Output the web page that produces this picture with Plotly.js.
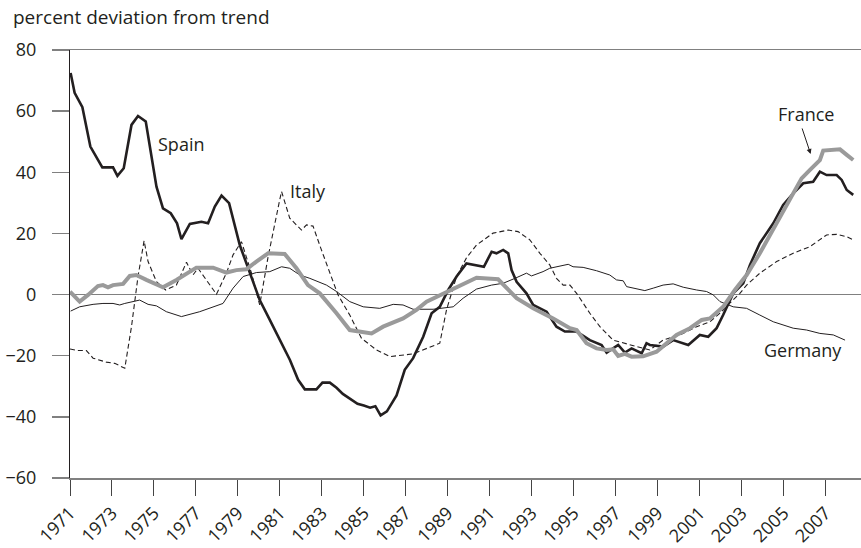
<!DOCTYPE html>
<html>
<head>
<meta charset="utf-8">
<script src="https://cdn.plot.ly/plotly-3.0.1.min.js"></script>
<style>html,body{margin:0;padding:0;background:#fff;}#chart{width:861px;height:548px;}</style>
</head>
<body>
<div id="chart"></div>
<script>
// ---- data ----
var tickYears = [1971,1973,1975,1977,1979,1981,1983,1985,1987,1989,1991,1993,1995,1997,1999,2001,2003,2005,2007];
var yTicks = [-60,-40,-20,0,20,40,60,80];

var spainYear = [1971.03,1971.22,1971.59,1971.97,1972.54,1973.05,1973.26,1973.56,1973.93,1974.24,1974.61,1975.12,1975.43,1975.80,1976.10,1976.31,1976.71,1977.26,1977.58,1977.90,1978.22,1978.58,1979.09,1979.57,1980.04,1980.52,1981.00,1981.48,1981.87,1982.19,1982.74,1983.03,1983.38,1983.70,1984.00,1984.33,1984.70,1985.00,1985.30,1985.55,1985.80,1986.10,1986.40,1986.56,1986.95,1987.35,1987.83,1988.23,1988.62,1989.02,1989.42,1989.89,1990.72,1991.09,1991.32,1991.64,1991.88,1992.04,1992.28,1992.75,1993.07,1993.71,1994.18,1994.58,1995.14,1995.77,1996.33,1996.57,1997.12,1997.44,1997.76,1998.24,1998.47,1998.63,1999.26,1999.74,2000.46,2001.01,2001.41,2001.81,2002.12,2002.60,2003.08,2003.40,2003.87,2004.51,2004.98,2005.46,2005.94,2006.41,2006.73,2007.05,2007.53,2007.77,2008.01,2008.32];
var spainVal = [72.5,66.0,61.3,48.4,41.6,41.6,38.8,41.3,55.5,58.4,56.6,35.3,28.2,26.6,23.3,18.1,23.1,23.8,23.3,28.8,32.4,29.9,16.2,7.0,-1.8,-8.3,-14.9,-21.4,-27.9,-31.0,-31.0,-28.8,-28.8,-30.5,-32.5,-34.0,-35.7,-36.3,-37.0,-36.5,-39.5,-38.2,-35.0,-33.0,-24.6,-20.8,-13.8,-6.1,-4.0,1.5,5.9,10.2,9.1,14.0,13.5,14.6,13.5,8.0,4.2,0.4,-3.4,-5.6,-10.5,-12.1,-12.1,-14.9,-16.5,-19.0,-16.5,-19.0,-17.6,-19.2,-15.9,-16.5,-17.0,-14.9,-16.5,-13.2,-13.8,-11.0,-6.7,0.4,3.7,9.7,16.8,23.3,29.3,33.1,36.4,36.9,40.2,39.1,39.1,37.5,34.2,32.6];

var franceYear = [1971.0,1971.46,1971.86,1972.33,1972.57,1972.81,1973.05,1973.53,1973.85,1974.16,1974.64,1975.43,1976.07,1977.02,1977.82,1978.45,1978.93,1979.41,1979.88,1980.44,1981.23,1981.79,1982.34,1982.90,1983.70,1984.33,1985.37,1985.92,1986.87,1987.51,1987.99,1988.46,1989.42,1990.37,1991.40,1991.88,1992.28,1993.07,1994.02,1994.82,1995.14,1995.61,1996.09,1996.57,1996.88,1997.12,1997.44,1997.76,1998.31,1998.95,1999.90,2000.54,2001.10,2001.49,2002.12,2002.68,2003.24,2003.87,2004.67,2005.30,2005.86,2006.26,2006.73,2006.89,2007.69,2008.01,2008.32];
var franceVal = [0.95,-2.3,-0.1,2.8,3.1,2.4,3.1,3.5,6.1,6.4,4.8,2.4,4.8,8.8,8.8,7.2,8.0,8.3,10.8,13.5,13.3,8.6,3.1,0.4,-6.1,-11.6,-12.7,-10.5,-7.8,-5.0,-2.3,-0.7,2.6,5.5,5.0,1.5,-1.2,-4.5,-7.8,-11.0,-11.6,-15.9,-17.6,-18.1,-17.9,-20.1,-19.4,-20.3,-20.2,-18.7,-13.2,-11.0,-8.3,-7.8,-4.0,1.5,6.4,13.5,23.3,30.9,38.0,40.8,44.0,47.1,47.5,45.7,44.0];

var italyYear = [1971.0,1971.38,1971.78,1972.10,1972.73,1973.13,1973.61,1973.93,1974.24,1974.53,1974.72,1975.12,1975.56,1976.07,1976.55,1976.86,1977.10,1977.50,1977.98,1978.45,1978.77,1979.17,1979.65,1980.04,1980.44,1980.99,1981.08,1981.47,1982.03,1982.27,1982.58,1982.98,1983.77,1984.33,1984.89,1985.60,1986.24,1987.35,1988.23,1988.62,1988.94,1989.42,1989.89,1990.37,1991.16,1991.88,1992.35,1992.91,1993.39,1993.86,1994.18,1994.50,1994.82,1995.14,1995.77,1996.25,1996.88,1997.36,1997.99,1998.63,1999.26,2000.06,2000.86,2001.49,2001.97,2002.44,2002.92,2003.24,2003.87,2004.67,2005.46,2006.26,2006.73,2007.05,2007.53,2008.01,2008.32];
var italyVal = [-17.8,-18.3,-18.3,-20.8,-22.1,-22.5,-24.1,-10.5,5.9,17.6,10.8,4.2,1.5,3.1,10.6,6.4,8.6,4.8,0.1,7.0,13.0,17.3,7.0,-3.4,12.4,30.9,33.7,25.0,21.1,22.8,22.4,14.6,-0.1,-6.7,-14.3,-18.1,-20.3,-19.4,-17.0,-15.9,-5.0,5.9,12.0,16.2,20.1,21.1,20.6,17.9,13.5,9.7,5.3,3.1,3.1,0.4,-6.1,-10.5,-14.9,-15.9,-17.0,-18.1,-14.9,-13.2,-10.5,-8.9,-6.1,-2.8,0.4,3.1,7.0,10.8,13.5,15.7,17.9,19.5,19.7,18.9,17.9];

var germanyYear = [1971.03,1971.46,1972.10,1972.57,1973.05,1973.37,1973.61,1973.93,1974.32,1974.72,1975.12,1975.59,1976.31,1977.18,1977.82,1978.29,1978.77,1979.25,1979.88,1980.52,1981.08,1981.47,1981.95,1982.43,1983.22,1983.70,1984.33,1984.97,1985.76,1986.40,1986.87,1987.35,1988.30,1989.26,1989.73,1990.37,1991.09,1991.64,1992.20,1992.75,1992.99,1993.54,1993.86,1994.34,1994.74,1994.97,1995.45,1996.09,1996.72,1997.04,1997.36,1997.52,1997.92,1998.39,1998.79,1999.26,1999.74,2000.22,2000.86,2001.33,2001.65,2001.97,2002.60,2003.24,2003.87,2004.51,2005.46,2006.10,2006.73,2007.37,2007.93];
var germanyVal = [-5.4,-4.0,-3.2,-2.9,-2.9,-3.4,-2.9,-2.3,-1.8,-3.2,-3.7,-5.6,-7.2,-5.6,-4.0,-2.9,2.1,5.9,7.2,7.5,9.1,8.6,6.4,5.3,3.1,1.0,-2.3,-4.0,-4.5,-3.2,-3.4,-4.8,-4.8,-4.0,-1.2,1.8,3.1,3.7,5.3,7.0,6.1,7.5,8.6,9.4,9.9,9.1,8.9,7.8,6.4,4.8,4.5,2.6,2.1,1.3,2.1,3.1,3.5,2.4,1.5,1.0,-0.1,-2.3,-4.0,-4.5,-6.7,-8.9,-11.0,-11.6,-12.7,-13.2,-14.9];

var labelNames = ['Spain','Italy','France','Germany'];
var labelYears = [1975.12,1981.38,2006.07,2003.96];
var labelVals = [49.3,33.9,59.0,-18.0];
var arrowYear = 2006.29, arrowVal = 46.0;

// ---- chart ----
var ink = '#231f20';
var FONT = 'Open Sans, sans-serif';
var traces = [
  {x: germanyYear, y: germanyVal, mode:'lines', line:{color:ink, width:1}, hoverinfo:'skip'},
  {x: italyYear, y: italyVal, mode:'lines', line:{color:ink, width:1.1, dash:'5px,3px'}, hoverinfo:'skip'},
  {x: spainYear, y: spainVal, mode:'lines', line:{color:ink, width:2.6}, hoverinfo:'skip'},
  {x: franceYear, y: franceVal, mode:'lines', line:{color:'#9a9a9a', width:4}, hoverinfo:'skip'}
];

var annotations = [];
for (var i = 0; i < labelNames.length; i++) {
  annotations.push({
    x: labelYears[i], y: labelVals[i], xref:'x', yref:'y',
    text: labelNames[i], showarrow:false,
    xanchor: labelNames[i] === 'France' ? 'center' : 'left', yanchor:'middle',
    font:{family:FONT, size:18, color:ink}
  });
}
annotations.push({
  x: arrowYear, y: arrowVal, xref:'x', yref:'y', text:'', showarrow:true,
  ax:-9, ay:-27, arrowhead:2, arrowsize:1, arrowwidth:1, arrowcolor:ink
});

var layout = {
  width: 861, height: 548,
  margin: {l:70, r:0, t:50, b:70, pad:0},
  paper_bgcolor:'#fff', plot_bgcolor:'#fff',
  showlegend:false,
  font:{family:FONT, size:18, color:ink},
  title:{text:'percent deviation from trend', x:13/861, xanchor:'left', xref:'container', y:1-17/548, yanchor:'middle', yref:'container',
         font:{family:FONT, size:19, color:ink}},
  xaxis:{
    range:[1971, 2008.69], tickmode:'array', tickvals:tickYears, ticktext:tickYears.map(String),
    tickangle:-45, ticks:'outside', ticklen:16, tickwidth:1, tickcolor:'#444',
    showline:true, linecolor:'#808080', linewidth:1.5, mirror:true,
    showgrid:false, zeroline:false, tickfont:{family:FONT, size:18, color:ink}
  },
  yaxis:{
    range:[-60, 80], tickmode:'array', tickvals:yTicks,
    ticks:'outside', ticklen:17, tickwidth:1.5, tickcolor:'#808080', ticklabelstandoff:12,
    showline:true, linecolor:ink, linewidth:1,
    showgrid:false, zeroline:true, zerolinecolor:'#808080', zerolinewidth:1.5,
    tickfont:{family:FONT, size:18, color:ink}
  },
  annotations: annotations
};

Plotly.newPlot('chart', traces, layout, {staticPlot:true, displayModeBar:false});
</script>
</body>
</html>
